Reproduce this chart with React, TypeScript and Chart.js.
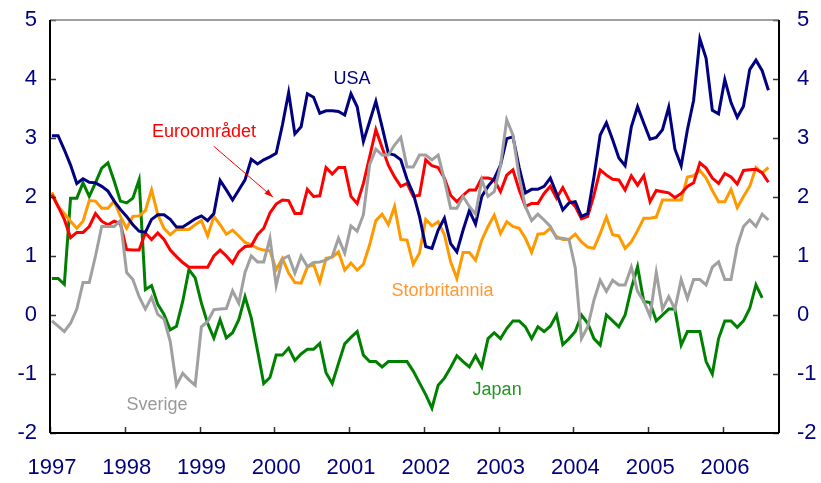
import React, { useEffect, useRef } from "react";
import { Chart, registerables } from "chart.js";

Chart.register(...registerables);

// Monthly data, January 1997 onwards (year-on-year inflation, %)
const START_YEAR = 1997;
const yearTicks = [1997, 1998, 1999, 2000, 2001, 2002, 2003, 2004, 2005, 2006];
const valueTicks = [-2, -1, 0, 1, 2, 3, 4, 5];

const usa = [
  3.04, 3.04, 2.8, 2.54, 2.23, 2.31, 2.25, 2.24, 2.18, 2.1, 1.93, 1.79,
  1.67, 1.53, 1.42, 1.4, 1.62, 1.7, 1.7, 1.62, 1.49, 1.49, 1.56, 1.63,
  1.68, 1.6, 1.72, 2.28, 2.12, 1.95, 2.12, 2.29, 2.64, 2.56, 2.63, 2.68,
  2.74, 3.22, 3.77, 3.07, 3.19, 3.75, 3.69, 3.42, 3.46, 3.46, 3.45, 3.39,
  3.75, 3.53, 2.94, 3.28, 3.62, 3.19, 2.74, 2.71, 2.63, 2.3, 2.06, 1.67,
  1.16, 1.13, 1.44, 1.64, 1.21, 1.07, 1.44, 1.77, 1.54, 2.01, 2.18, 2.31,
  2.54, 2.99, 3.02, 2.5, 2.07, 2.13, 2.13, 2.18, 2.32, 2.06, 1.78, 1.9,
  1.92, 1.67, 1.72, 2.34, 3.05, 3.26, 2.97, 2.66, 2.53, 3.19, 3.53, 3.25,
  2.98, 3.01, 3.14, 3.52, 2.81, 2.53, 3.14, 3.64, 4.68, 4.35, 3.47, 3.41,
  3.99, 3.6, 3.35, 3.54, 4.16, 4.32, 4.14, 3.81,
];

const euro = [
  2.04, 1.84, 1.62, 1.31, 1.4, 1.4, 1.5, 1.72, 1.59, 1.53, 1.59, 1.55,
  1.11, 1.1, 1.1, 1.39, 1.28, 1.39, 1.28, 1.1, 0.99, 0.89, 0.81, 0.81,
  0.81, 0.81, 1.0, 1.1, 1.0, 0.88, 1.07, 1.16, 1.17, 1.36, 1.47, 1.73,
  1.88, 1.95, 1.94, 1.72, 1.72, 2.13, 2.01, 2.02, 2.5, 2.39, 2.5, 2.5,
  2.01, 1.89, 2.23, 2.68, 3.14, 2.84, 2.54, 2.34, 2.18, 2.23, 2.01, 2.03,
  2.63, 2.53, 2.5, 2.32, 2.03, 1.92, 2.03, 2.12, 2.12, 2.32, 2.32, 2.29,
  2.09, 2.37, 2.46, 2.12, 1.84, 1.89, 1.89, 2.06, 2.18, 1.98, 2.16, 1.95,
  1.84, 1.63, 1.67, 2.03, 2.46, 2.37, 2.3, 2.29, 2.12, 2.36, 2.2, 2.36,
  1.92, 2.11, 2.09, 2.07, 1.99, 2.06, 2.18, 2.24, 2.58, 2.49, 2.32, 2.23,
  2.4, 2.34, 2.22, 2.45, 2.46, 2.47, 2.41, 2.25,
];

const storbritannia = [
  2.08, 1.84, 1.72, 1.59, 1.47, 1.59, 1.94, 1.93, 1.81, 1.81, 1.93, 1.67,
  1.47, 1.67, 1.68, 1.77, 2.12, 1.7, 1.47, 1.36, 1.45, 1.45, 1.45, 1.53,
  1.6, 1.34, 1.67, 1.53, 1.37, 1.44, 1.34, 1.23, 1.19, 1.13, 1.1, 1.09,
  0.77, 0.96, 0.71, 0.55, 0.54, 0.81, 0.86, 0.56, 0.96, 0.98, 1.07, 0.76,
  0.88, 0.76, 0.86, 1.19, 1.6, 1.71, 1.53, 1.84, 1.28, 1.27, 0.86, 1.05,
  1.62, 1.51, 1.58, 1.36, 0.9, 0.62, 1.06, 1.06, 0.93, 1.27, 1.5, 1.69,
  1.38, 1.58, 1.5, 1.47, 1.3, 1.06, 1.37, 1.38, 1.47, 1.33, 1.28, 1.28,
  1.37, 1.24, 1.15, 1.13, 1.38, 1.66, 1.36, 1.34, 1.13, 1.24, 1.43, 1.64,
  1.64, 1.66, 1.95, 1.95, 1.95, 1.95, 2.34, 2.36, 2.45, 2.32, 2.11, 1.92,
  1.92, 2.13, 1.82, 2.01, 2.18, 2.5, 2.41, 2.5,
];

const sverige = [
  -0.1, -0.19, -0.28, -0.14, 0.1, 0.55, 0.55, 1.0, 1.5, 1.5, 1.5, 1.6,
  0.72, 0.6, 0.31, 0.1, 0.3, 0.01, -0.07, -0.45, -1.19, -0.99, -1.1, -1.19,
  -0.2, -0.11, 0.09, 0.1, 0.11, 0.41, 0.2, 0.72, 1.0, 0.9, 0.9, 1.3,
  0.5, 0.95, 1.0, 0.71, 1.0, 0.82, 0.89, 0.9, 0.93, 0.99, 1.3, 1.05,
  1.51, 1.42, 1.7, 2.55, 2.81, 2.71, 2.71, 2.88, 3.01, 2.51, 2.51, 2.71,
  2.71, 2.63, 2.71, 2.29, 1.81, 1.81, 2.01, 1.84, 1.71, 2.29, 2.01, 2.09,
  2.53, 3.31, 3.05, 2.34, 1.84, 1.6, 1.71, 1.61, 1.5, 1.3, 1.3, 1.28,
  0.8, -0.4, -0.2, 0.25, 0.59, 0.4, 0.59, 0.51, 0.51, 0.81, 0.4, 0.23,
  -0.02, 0.72, 0.1, 0.31, 0.1, 0.6, 0.28, 0.6, 0.6, 0.51, 0.81, 0.9,
  0.6, 0.6, 1.17, 1.5, 1.61, 1.5, 1.71, 1.61,
];

const japan = [
  0.62, 0.62, 0.52, 1.98, 1.98, 2.24, 2.01, 2.24, 2.49, 2.58, 2.27, 1.93,
  1.9, 1.98, 2.29, 0.43, 0.5, 0.18, 0.01, -0.25, -0.19, 0.23, 0.77, 0.63,
  0.2, -0.14, -0.39, -0.08, -0.39, -0.3, -0.08, 0.31, -0.05, -0.6, -1.16, -1.06,
  -0.68, -0.68, -0.56, -0.77, -0.66, -0.58, -0.58, -0.48, -0.98, -1.16, -0.82, -0.49,
  -0.38, -0.28, -0.68, -0.79, -0.79, -0.88, -0.79, -0.79, -0.79, -0.79, -0.95, -1.15,
  -1.35, -1.58, -1.19, -1.07, -0.89, -0.69, -0.79, -0.88, -0.69, -0.88, -0.4, -0.3,
  -0.4, -0.23, -0.1, -0.1, -0.2, -0.4, -0.2, -0.28, -0.19, 0.0, -0.5, -0.4,
  -0.28, 0.0, -0.14, -0.4, -0.51, 0.0, -0.1, -0.2, 0.0, 0.45, 0.82, 0.23,
  0.21, -0.1, 0.0, 0.1, 0.1, -0.51, -0.28, -0.28, -0.28, -0.79, -1.0, -0.4,
  -0.1, -0.1, -0.21, -0.1, 0.11, 0.51, 0.29,
];

const FONT = 'Arial, "Liberation Sans", sans-serif';
const AXIS_TEXT = "#000080";

const toPoints = (vals: number[]) =>
  vals.map((v, i) => ({ x: START_YEAR + (i + 0.3) / 12, y: v }));

type Note = { text: string; x: number; y: number; color: string };
const notes: Note[] = [
  { text: "USA", x: 2001.04, y: 4.0, color: "#000080" },
  { text: "Euroområdet", x: 1999.06, y: 3.1, color: "#ff0000" },
  { text: "Storbritannia", x: 2002.25, y: 0.41, color: "#ff9933" },
  { text: "Japan", x: 2002.98, y: -1.27, color: "#1f961f" },
  { text: "Sverige", x: 1998.43, y: -1.53, color: "#999999" },
];
const arrowFrom = { x: 1999.19, y: 2.86 };
const arrowTo = { x: 1999.98, y: 2.0 };

const framePlugin = {
  id: "frame",
  afterDraw(chart: any) {
    const { ctx, chartArea: a, scales } = chart;
    const sx = scales.x;
    const sy = scales.y;
    ctx.save();
    const line = (x1: number, y1: number, x2: number, y2: number) => {
      ctx.beginPath();
      ctx.moveTo(x1, y1);
      ctx.lineTo(x2, y2);
      ctx.stroke();
    };
    // inward tick marks
    ctx.lineWidth = 1.5;
    ctx.strokeStyle = "#333333";
    valueTicks.forEach((v) => {
      const y = Math.round(sy.getPixelForValue(v)) + 0.5;
      line(a.left, y, a.left + 6, y);
      line(a.right - 6, y, a.right, y);
    });
    yearTicks.forEach((v) => {
      const x = Math.round(sx.getPixelForValue(v)) + 0.5;
      line(x, a.bottom, x, a.bottom - 6);
    });
    // frame
    ctx.strokeStyle = "#808080";
    ctx.lineWidth = 1.5;
    line(a.left, a.top, a.right, a.top);
    ctx.strokeStyle = "#000000";
    ctx.lineWidth = 2;
    line(a.left, a.top, a.left, a.bottom);
    line(a.left, a.bottom, a.right, a.bottom);
    line(a.right, a.top, a.right, a.bottom);

    // annotations
    ctx.font = `18px ${FONT}`;
    ctx.textAlign = "center";
    ctx.textBaseline = "middle";
    notes.forEach((n) => {
      ctx.fillStyle = n.color;
      ctx.fillText(n.text, sx.getPixelForValue(n.x), sy.getPixelForValue(n.y));
    });
    // arrow
    const x1 = sx.getPixelForValue(arrowFrom.x);
    const y1 = sy.getPixelForValue(arrowFrom.y);
    const x2 = sx.getPixelForValue(arrowTo.x);
    const y2 = sy.getPixelForValue(arrowTo.y);
    ctx.strokeStyle = "#ff0000";
    ctx.fillStyle = "#ff0000";
    ctx.lineWidth = 1;
    line(x1, y1, x2, y2);
    const ang = Math.atan2(y2 - y1, x2 - x1);
    const len = 9;
    ctx.beginPath();
    ctx.moveTo(x2, y2);
    ctx.lineTo(x2 - len * Math.cos(ang - 0.35), y2 - len * Math.sin(ang - 0.35));
    ctx.lineTo(x2 - len * Math.cos(ang + 0.35), y2 - len * Math.sin(ang + 0.35));
    ctx.closePath();
    ctx.fill();
    ctx.restore();
  },
};

export default function App() {
  const ref = useRef<HTMLCanvasElement | null>(null);

  useEffect(() => {
    if (!ref.current) return;
    const mk = (label: string, data: number[], color: string) => ({
      label,
      data: toPoints(data),
      borderColor: color,
      backgroundColor: color,
      borderWidth: 3,
      pointRadius: 0,
      tension: 0,
      fill: false,
    });
    // label offset from the axis = (invisible) tick length + padding;
    // padding kept small so it does not push the plot area down
    const yScale = (position: "left" | "right", tickLen: number, width: number) => ({
      type: "linear" as const,
      position,
      min: -2,
      max: 5,
      grid: {
        display: true,
        drawOnChartArea: false,
        drawTicks: true,
        tickLength: tickLen,
        tickColor: "rgba(0,0,0,0)",
        color: "rgba(0,0,0,0)",
      },
      border: { display: false },
      ticks: {
        stepSize: 1,
        color: AXIS_TEXT,
        padding: 5,
        font: { size: 22, family: FONT },
        callback: (v: any) => String(v),
      },
      afterFit: (s: any) => {
        s.width = width;
      },
    });
    const chart = new Chart(ref.current, {
      type: "line",
      data: {
        datasets: [
          mk("Sverige", sverige, "#a0a0a0"),
          mk("USA", usa, "#000080"),
          mk("Euroområdet", euro, "#ff0000"),
          mk("Storbritannia", storbritannia, "#ff9900"),
          mk("Japan", japan, "#008000"),
        ],
      },
      options: {
        animation: false,
        responsive: false,
        devicePixelRatio: 1,
        layout: { padding: { top: 20, left: 0, right: 0, bottom: 0 } },
        plugins: { legend: { display: false }, tooltip: { enabled: false } },
        scales: {
          x: {
            type: "linear",
            min: 1997,
            max: 2006.75,
            grid: { display: false, drawTicks: false },
            border: { display: false },
            ticks: {
              stepSize: 1,
              includeBounds: false,
              autoSkip: false,
              maxRotation: 0,
              color: AXIS_TEXT,
              padding: 22,
              labelOffset: 2,
              font: { size: 22, family: FONT },
              callback: (v: any) => String(v),
            },
            afterFit: (s: any) => {
              s.height = 50;
            },
          },
          y: yScale("left", 8, 50),
          y2: yScale("right", 13, 42),
        },
      },
      plugins: [framePlugin],
    });
    return () => chart.destroy();
  }, []);

  return (
    <div style={{ position: "absolute", left: 0, top: 0, width: 821, height: 483, background: "#fff" }}>
      <canvas ref={ref} width={821} height={483} />
    </div>
  );
}
